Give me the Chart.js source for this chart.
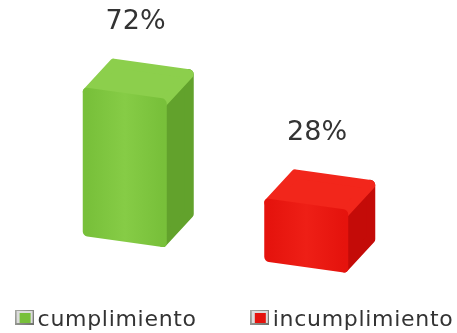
<!DOCTYPE html>
<html lang="es">
<head>
<meta charset="utf-8">
<title>Cumplimiento</title>
<script src="https://cdn.jsdelivr.net/npm/chart.js@4"></script>
<style>
    html, body { margin: 0; padding: 0; background: #fff; }
    #wrap { width: 457px; height: 333px; position: relative; }
</style>
</head>
<body>
<div id="wrap"><canvas id="grafico"></canvas></div>
<script>
// Datos
const categorias = ['cumplimiento', 'incumplimiento'];
const porcentajes = [72, 28];

// Colores de cada caja (frente, centro del frente, tapa, lateral)
const verdes = { frente: '#78c03a', claro: '#86cc46', tapa: '#8ccf4c', lado: '#62a22c' };
const rojos  = { frente: '#e5130d', claro: '#ee1f16', tapa: '#f2261b', lado: '#c40b08' };
const paletas = [verdes, rojos];

// Pinta un polígono relleno y con borde grueso redondeado
function cara(ctx, puntos, estilo) {
    ctx.beginPath();
    puntos.forEach(([x, y], k) => k ? ctx.lineTo(x, y) : ctx.moveTo(x, y));
    ctx.closePath();
    ctx.fillStyle = estilo;
    ctx.strokeStyle = estilo;
    ctx.fill();
    ctx.stroke();
}

// Caja en relieve a partir del rectángulo de la barra
function dibujarCaja(ctx, bar, p, o) {
    const l = bar.x - bar.width / 2, r = bar.x + bar.width / 2;
    const t = bar.y, b = bar.base;
    const dx = o.fondoX, dy = o.fondoY;
    ctx.lineJoin = 'round';
    ctx.lineWidth = o.redondeo;

    // lateral derecho
    cara(ctx, [[r, t], [r + dx, t + dy], [r + dx, b + dy], [r, b]], p.lado);
    // tapa
    cara(ctx, [[l, t], [l + dx, t + dy], [r + dx, t + dy], [r, t]], p.tapa);
    // frente, algo más claro en el centro
    const g = ctx.createLinearGradient(l, 0, r, 0);
    g.addColorStop(0, p.frente);
    g.addColorStop(0.5, p.claro);
    g.addColorStop(1, p.frente);
    cara(ctx, [[l, t], [r, t], [r, b], [l, b]], g);
}

const cajas3d = {
    id: 'cajas3d',
    beforeDatasetsDraw(chart, args, opts) {
        const ctx = chart.ctx;
        const area = chart.chartArea;
        const centro = (area.left + area.right) / 2;
        ctx.save();
        ctx.transform(1, opts.inclinacion, 0, 1, 0, -opts.inclinacion * centro);
        chart.getDatasetMeta(0).data.forEach((bar, i) => dibujarCaja(ctx, bar, paletas[i], opts));
        ctx.restore();
        return false;
    },
    // porcentajes encima de cada caja
    afterDraw(chart, args, opts) {
        const ctx = chart.ctx;
        const area = chart.chartArea;
        const centro = (area.left + area.right) / 2;
        ctx.save();
        ctx.font = '27px "DejaVu Sans"';
        ctx.fillStyle = '#333';
        ctx.textAlign = 'center';
        ctx.textBaseline = 'middle';
        chart.getDatasetMeta(0).data.forEach((bar, i) => {
            const lx = bar.x + opts.fondoX * 0.4;
            const ly = bar.y + opts.fondoY - opts.separacion + opts.inclinacion * (lx - centro);
            ctx.fillText(porcentajes[i] + '%', lx, ly);
        });
        ctx.restore();
    }
};

// Icono pequeño de la leyenda
function iconoLeyenda(color) {
    const c = document.createElement('canvas');
    c.width = 19;
    c.height = 15;
    const g = c.getContext('2d');
    const fondo = g.createLinearGradient(0, 0, 19, 15);
    fondo.addColorStop(0, '#a8aaa4');
    fondo.addColorStop(1, '#6f716c');
    g.fillStyle = fondo;
    g.fillRect(0, 0, 19, 15);
    g.fillStyle = '#dcdcdc';
    g.fillRect(2, 1, 16, 12);
    g.fillStyle = color;
    g.fillRect(5, 3, 11, 10);
    return c;
}
const iconos = [iconoLeyenda(verdes.frente), iconoLeyenda(rojos.frente)];

// Leyenda en una fila, centrada, con icono y texto por categoría
const leyenda = {
    id: 'leyenda',
    afterDraw(chart, args, o) {
        const ctx = chart.ctx;
        ctx.save();
        ctx.font = o.fuente;
        ctx.letterSpacing = o.espaciado;
        ctx.fillStyle = o.color;
        ctx.textBaseline = 'alphabetic';
        const anchos = categorias.map(t => ctx.measureText(t).width);
        const total = anchos.reduce((s, w) => s + o.icono + o.hueco + w, 0) + o.separacion * (categorias.length - 1);
        let x = o.centro - total / 2;
        categorias.forEach((texto, i) => {
            ctx.drawImage(iconos[i], x, o.y - 16);
            x += o.icono + o.hueco;
            ctx.fillText(texto, x, o.y);
            x += anchos[i] + o.separacion;
        });
        ctx.restore();
    }
};

new Chart(document.getElementById('grafico').getContext('2d'), {
    type: 'bar',
    data: {
        labels: categorias,
        datasets: [{
            data: porcentajes,
            backgroundColor: [verdes.frente, rojos.frente],
            barThickness: 75
        }]
    },
    options: {
        responsive: true,
        maintainAspectRatio: false,
        animation: false,
        layout: { padding: { top: 56, bottom: 83, left: 34, right: 60 } },
        scales: {
            x: { display: false },
            y: { display: false, min: 0, max: 100 }
        },
        plugins: {
            tooltip: { enabled: false },
            legend: { display: false },
            cajas3d: {
                inclinacion: 0.14,
                fondoX: 27,
                fondoY: -33,
                redondeo: 9,
                separacion: 44
            },
            leyenda: {
                fuente: '22px "DejaVu Sans"',
                espaciado: '0.7px',
                color: '#333',
                icono: 19,
                hueco: 4,
                separacion: 53,
                centro: 234,
                y: 326
            }
        }
    },
    plugins: [cajas3d, leyenda]
});
</script>
</body>
</html>
